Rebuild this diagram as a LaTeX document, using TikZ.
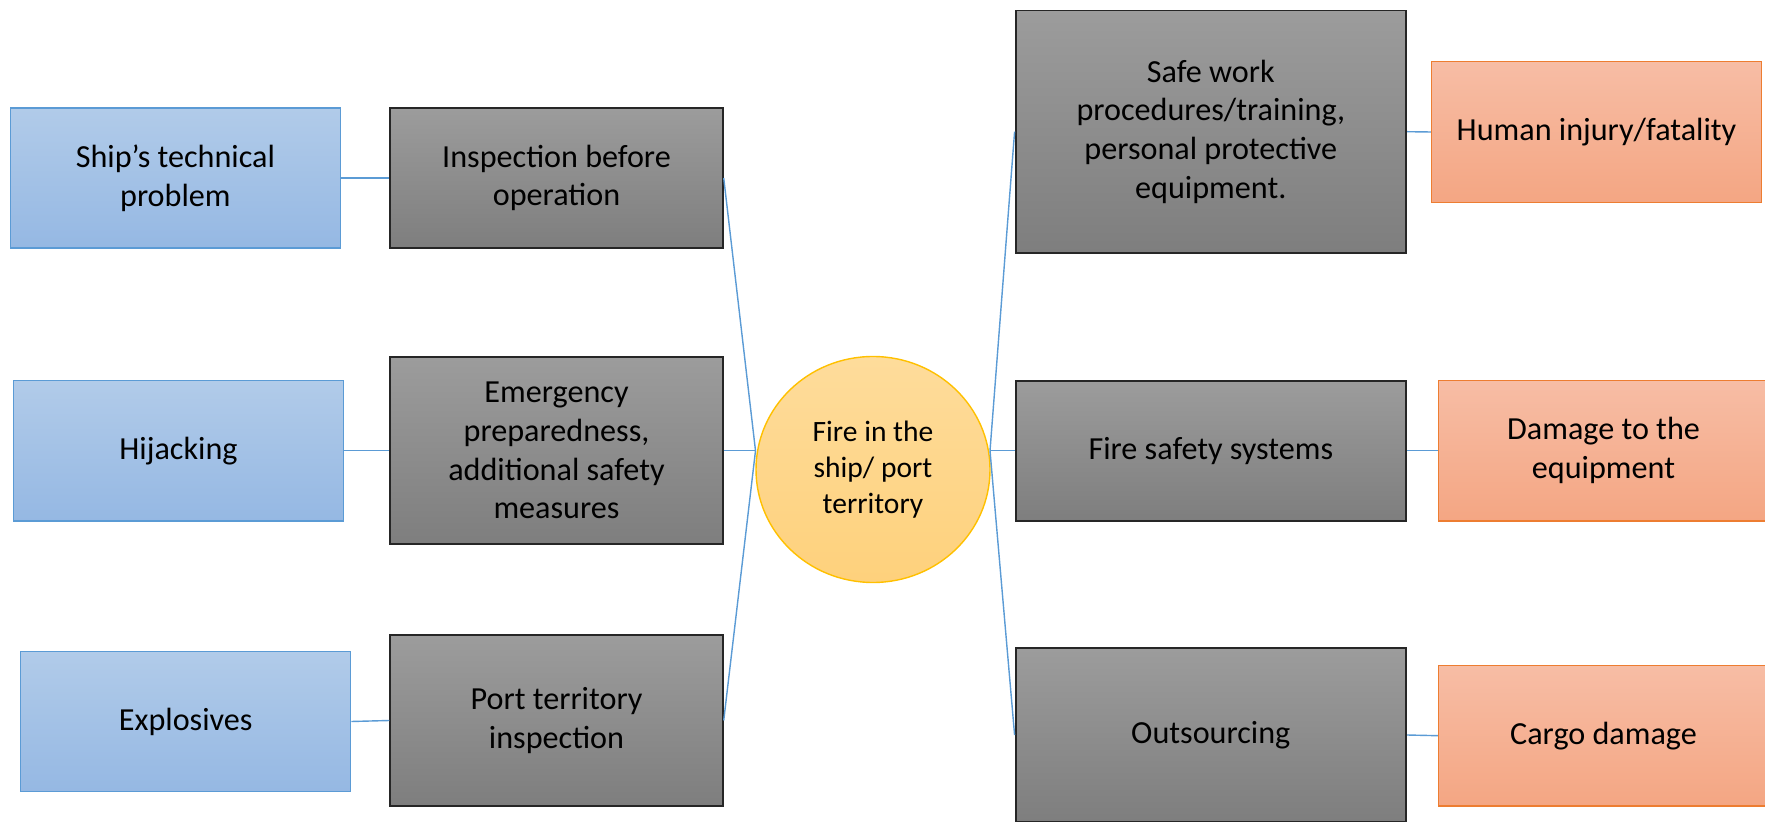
\documentclass[tikz,border=0pt]{standalone}
\usepackage{fontspec}
\setmainfont{Carlito}
\usepackage{tikz}
\usetikzlibrary{positioning, shapes.geometric, calc}

\begin{document}
\begin{tikzpicture}[
    causebox/.style={rectangle, draw=causeline, line width=0.8pt, top color=causetop, bottom color=causebot,
      minimum width=6.6cm, minimum height=2.806cm, align=center, inner sep=0pt, font=\boxfont},
    barrierbox/.style={rectangle, draw=barrierline, line width=1.1pt, top color=barriertop, bottom color=barrierbot,
      minimum width=6.65cm, align=center, inner sep=0pt, font=\boxfont},
    effectbox/.style={rectangle, draw=effectline, line width=0.8pt, top color=effecttop, bottom color=effectbot,
      minimum width=6.6cm, minimum height=2.81cm, align=center, inner sep=0pt, font=\boxfont},
    link/.style={draw=linkcolor, line width=0.8pt}
  ]
  % Define colors for the bow-tie
  \definecolor{causetop}{RGB}{177,203,233}     % Light blue
  \definecolor{causebot}{RGB}{149,184,227}
  \definecolor{causeline}{RGB}{91,155,213}
  \definecolor{barriertop}{RGB}{156,156,156}   % Gray
  \definecolor{barrierbot}{RGB}{126,126,126}
  \definecolor{barrierline}{RGB}{38,38,38}
  \definecolor{effecttop}{RGB}{247,189,165}    % Salmon
  \definecolor{effectbot}{RGB}{244,166,131}
  \definecolor{effectline}{RGB}{237,125,49}
  \definecolor{eventtop}{RGB}{254,220,155}     % Gold
  \definecolor{eventbot}{RGB}{254,209,124}
  \definecolor{eventline}{RGB}{255,192,0}
  \definecolor{linkcolor}{RGB}{91,155,213}
  \newcommand{\boxfont}{\fontsize{18.3pt}{22pt}\selectfont}

  \useasboundingbox (0,0) rectangle (35.3,16.42);
  \clip (0,0) rectangle (35.3,16.42);

  % Top event
  \node[ellipse, draw=eventline, line width=0.8pt, top color=eventtop, bottom color=eventbot,
    minimum width=4.68cm, minimum height=4.52cm, inner sep=0pt, align=center,
    font=\fontsize{16.8pt}{20.5pt}\selectfont] (fire) at (17.46,7.03) {Fire in the\\ship/ port\\territory};
  \coordinate (hubL) at (15.11,7.406);
  \coordinate (hubR) at (19.8,7.406);

  % Causes
  \node[causebox] (ship) at (3.508,12.86) {Ship’s technical\\problem};
  \node[causebox] (hijack) at (3.57,7.406) {Hijacking};
  \node[causebox] (explos) at (3.714,1.99) {Explosives};

  % Preventive barriers
  \node[barrierbox, minimum height=2.806cm] (insp) at (11.13,12.86) {Inspection before\\operation};
  \node[barrierbox, minimum height=3.75cm] (emerg) at (11.13,7.406) {Emergency\\preparedness,\\additional safety\\measures};
  \node[barrierbox, minimum height=3.41cm] (port) at (11.13,2.01) {Port territory\\inspection};

  % Mitigating barriers
  \node[barrierbox, minimum width=7.81cm, minimum height=4.848cm] (safe) at (24.216,13.786) {Safe work\\procedures/training,\\personal protective\\equipment.};
  \node[barrierbox, minimum width=7.81cm, minimum height=2.806cm] (firesys) at (24.216,7.406) {Fire safety systems};
  \node[barrierbox, minimum width=7.81cm, minimum height=3.468cm] (outs) at (24.216,1.72) {Outsourcing};

  % Consequences
  \node[effectbox] (human) at (31.93,13.78) {Human injury/fatality};
  \node[effectbox] (damage) at (32.07,7.406) {Damage to the\\equipment};
  \node[effectbox] (cargo) at (32.07,1.706) {Cargo damage};

  % Lines between boxes
  \draw[link] (ship.east) -- (insp.west);
  \draw[link] (hijack.east) -- (emerg.west);
  \draw[link] (explos.east) -- (port.west);
  \draw[link] (insp.east) -- (hubL);
  \draw[link] (emerg.east) -- (hubL);
  \draw[link] (port.east) -- (hubL);
  \draw[link] (hubR) -- (safe.west);
  \draw[link] (hubR) -- (firesys.west);
  \draw[link] (hubR) -- (outs.west);
  \draw[link] (safe.east) -- (human.west);
  \draw[link] (firesys.east) -- (damage.west);
  \draw[link] (outs.east) -- (cargo.west);
\end{tikzpicture}
\end{document}
